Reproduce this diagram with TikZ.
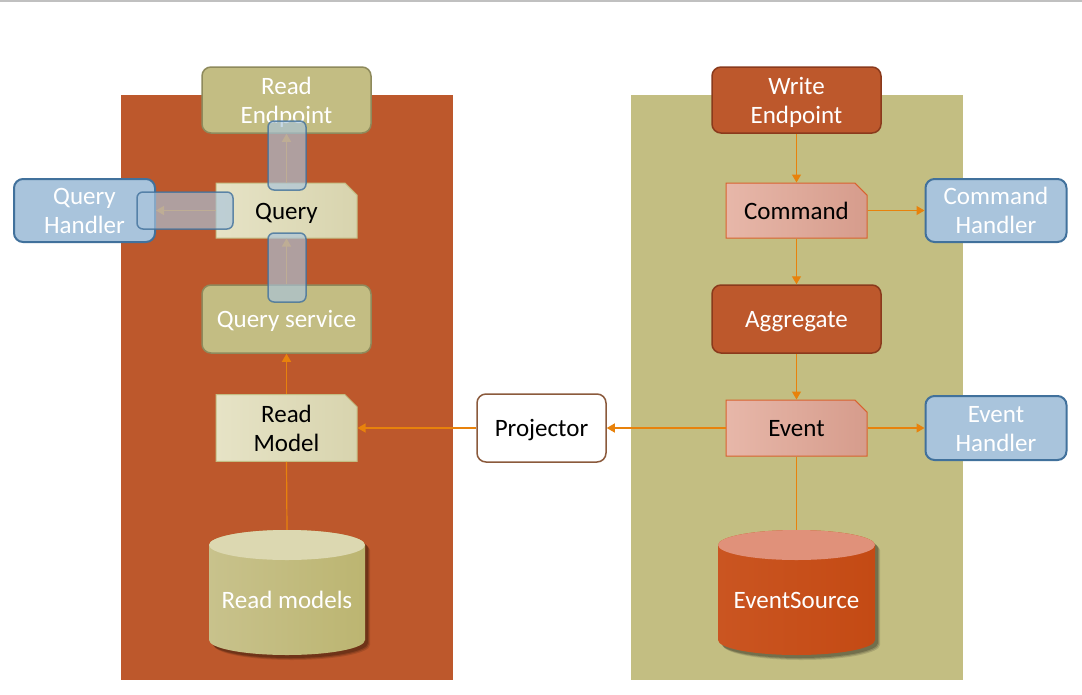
\documentclass[tikz,border=0pt]{standalone}
\usepackage{fontspec}
\setmainfont{Carlito}
\usetikzlibrary{arrows.meta,shapes.misc}

\definecolor{leftpanel}{HTML}{BD582C}
\definecolor{rightpanel}{HTML}{C3BE82}
\definecolor{oliveF}{HTML}{C3BD83}
\definecolor{oliveB}{HTML}{8E8A5C}
\definecolor{brickF}{HTML}{BD582C}
\definecolor{brickB}{HTML}{8A3A1C}
\definecolor{blueF}{HTML}{A9C4DC}
\definecolor{blueB}{HTML}{41719C}
\definecolor{paleA}{HTML}{E6E3C6}
\definecolor{paleB}{HTML}{D8D4AE}
\definecolor{paleE}{HTML}{C3BD83}
\definecolor{pinkA}{HTML}{E7B7A9}
\definecolor{pinkB}{HTML}{D69C8C}
\definecolor{pinkE}{HTML}{D8622E}
\definecolor{arrowc}{HTML}{E8820C}
\definecolor{projB}{HTML}{8B5A3C}
\definecolor{rmBodyA}{HTML}{C8C28C}
\definecolor{rmBodyB}{HTML}{BCB571}
\definecolor{rmTop}{HTML}{DCD8B1}
\definecolor{esBodyA}{HTML}{CA5521}
\definecolor{esBodyB}{HTML}{C44A14}
\definecolor{esTop}{HTML}{E0917A}
\definecolor{ruleC}{HTML}{C0C0C0}

\newcommand\boxfont{\fontsize{25}{29}\selectfont}
% fixed line height and depth, so lines sit like the font's own line box
\newcommand\lstrut{\rule[-5pt]{0pt}{27.5pt}}
% two centred lines with the same fixed line box
\newcommand\twolines[2]{\lstrut#1\\#2\lstrut}

\tikzset{
  txt/.style={font=\boxfont, align=center,
    execute at begin node=\lstrut, execute at end node=\lstrut},
  box/.style={txt, rectangle, rounded corners=9pt, minimum width=169pt,
    minimum height=66pt, line width=1.5pt, inner sep=2pt},
  olivebox/.style={box, fill=oliveF, draw=oliveB, text=white},
  brickbox/.style={box, fill=brickF, draw=brickB, text=white},
  bluebox/.style={box, fill=blueF, draw=blueB, text=white,
    minimum width=141pt, minimum height=63pt, line width=2pt},
  projbox/.style={box, fill=white, draw=projB, text=black,
    minimum width=129pt, minimum height=68pt},
  docbox/.style={txt, chamfered rectangle, chamfered rectangle corners=north east,
    chamfered rectangle xsep=9pt, minimum width=141pt, minimum height=55pt,
    line width=1pt, text=black, inner sep=2pt},
  paledoc/.style={docbox, draw=paleE, left color=paleA, right color=paleB},
  pinkdoc/.style={docbox, draw=pinkE, left color=pinkA, right color=pinkB},
  dbbox/.style={rectangle, draw=none, minimum width=156pt, minimum height=125pt},
  dbtext/.style={txt, text=white},
  conn/.style={draw=arrowc, line width=1.2pt,
    -{Triangle[length=8pt,width=9pt]}},
  plain/.style={draw=arrowc, line width=1.2pt},
  glass/.style={rectangle, rounded corners=6pt, fill=blueF, fill opacity=0.66,
    draw=blueB, draw opacity=0.8, line width=1.5pt},
}

\begin{document}
\begin{tikzpicture}[x=1pt, y=-1pt]
\useasboundingbox (0,0) rectangle (1082,694);
\fill[white] (0,0) rectangle (1082,694);
\fill[ruleC] (0,0) rectangle (1082,1.6);

% the two side panels
\fill[leftpanel] (121,95) rectangle (453,680);
\fill[rightpanel] (631,95) rectangle (963,680);

% cylinder: centre x, top y, bottom y, half width, body colours, top colour
\newcommand\drawdb[7]{%
  \foreach \s/\o in {5/0.12,4/0.16,3/0.2}{%
    \fill[black, opacity=\o, xshift=\s pt, yshift=-\s pt]
      (#1-#4,#2+15) -- (#1-#4,#3-15)
      arc[start angle=180, end angle=360, x radius=#4 pt, y radius=15pt]
      -- (#1+#4,#2+15)
      arc[start angle=0, end angle=180, x radius=#4 pt, y radius=15pt] -- cycle;}
  \shade[left color=#5, right color=#6]
    (#1-#4,#2+15) -- (#1-#4,#3-15)
    arc[start angle=180, end angle=360, x radius=#4 pt, y radius=15pt]
    -- (#1+#4,#2+15)
    arc[start angle=0, end angle=180, x radius=#4 pt, y radius=15pt] -- cycle;
  \fill[#7] (#1,#2+15) ellipse[x radius=#4 pt, y radius=15pt];
}

% read side
\node (rend) [olivebox] at (286.5,100) {\twolines{Read}{Endpoint}};
\node (query) [paledoc] at (286.5,210.5) {Query};
\node (qhand) [bluebox] at (84.5,210.5) {\twolines{Query}{Handler}};
\node (qserv) [olivebox, minimum height=68pt] at (286.5,319) {Query service};
\node (rmodel) [paledoc, minimum height=56pt] at (286.5,428) {\twolines{Read}{Model}};
\drawdb{287}{530}{655}{78}{rmBodyA}{rmBodyB}{rmTop}
\node (rmdb) [dbbox] at (287,592.5) {};
\node (rmdbtext) [dbtext] at (287,600) {Read models};

% projector between the panels
\node (proj) [projbox] at (541.5,428) {Projector};

% write side
\node (wend) [brickbox] at (796.5,100) {\twolines{Write}{Endpoint}};
\node (cmd) [pinkdoc] at (796.5,210.5) {Command};
\node (chand) [bluebox] at (996,210.5) {\twolines{Command}{Handler}};
\node (agg) [brickbox, minimum height=68pt] at (796.5,319) {Aggregate};
\node (evt) [pinkdoc, minimum height=56pt] at (796.5,428) {Event};
\node (ehand) [bluebox, minimum height=64pt] at (996,428) {\twolines{Event}{Handler}};
\drawdb{796.5}{530}{655}{78.5}{esBodyA}{esBodyB}{esTop}
\node (esdb) [dbbox] at (796.5,592.5) {};
\node (esdbtext) [dbtext] at (796.5,600) {EventSource};

% connectors, read side
\draw[plain] (rmdb.north) -- (rmodel.south);
\draw[conn] (rmodel.north) -- (qserv.south);
\draw[conn] (qserv.north) -- (query.south);
\draw[conn] (query.north) -- (rend.south);
\draw[conn] (query.west) -- (qhand.east);
\draw[conn] (proj.west) -- (rmodel.east);

% connectors, write side
\draw[conn] (wend.south) -- (cmd.north);
\draw[conn] (cmd.east) -- (chand.west);
\draw[conn] (cmd.south) -- (agg.north);
\draw[conn] (agg.south) -- (evt.north);
\draw[conn] (evt.east) -- (ehand.west);
\draw[conn] (evt.west) -- (proj.east);
\draw[plain] (esdb.north) -- (evt.south);

% translucent highlights over the query links
\node (hlup) [glass, minimum width=38pt, minimum height=69pt] at (287,155.5) {};
\node (hlleft) [glass, minimum width=96pt, minimum height=37pt] at (185,210.5) {};
\node (hldown) [glass, minimum width=38pt, minimum height=69pt] at (287,267.5) {};
\end{tikzpicture}
\end{document}
